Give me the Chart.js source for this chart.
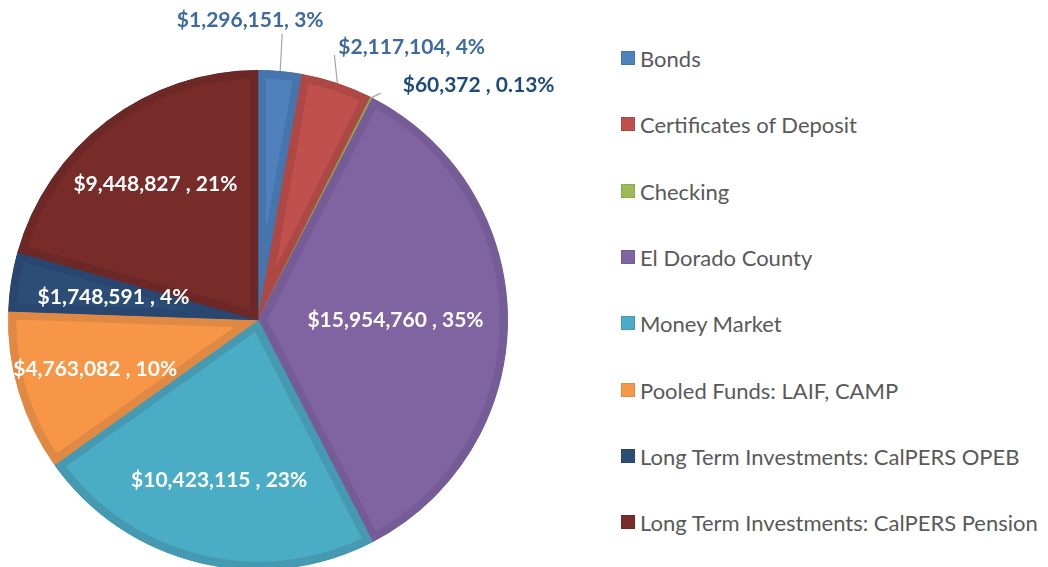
<!DOCTYPE html>
<html>
<head>
<meta charset="utf-8">
<script src="https://cdn.jsdelivr.net/npm/chart.js@4.4.1/dist/chart.umd.min.js"></script>
<style>
  html, body { margin: 0; padding: 0; background: #fff; width: 1048px; height: 567px; overflow: hidden; }
  #wrap { position: absolute; left: 0; top: 0; width: 600px; height: 572px; }
  #legend { position: absolute; left: 621px; top: 0; font-family: Lato, "Open Sans", sans-serif; font-size: 22px; color: #595959; }
  .legend-row { position: absolute; left: 0; white-space: nowrap; display: flex; align-items: center; height: 26px; }
  .legend-swatch { width: 14px; height: 14px; margin-right: 5px; flex: none; }
</style>
</head>
<body>
<div id="wrap"><canvas id="pie" width="600" height="572"></canvas></div>
<div id="legend"></div>
<script>
/* Datos del gráfico */
const CATEGORIES = [
  'Bonds',
  'Certificates of Deposit',
  'Checking',
  'El Dorado County',
  'Money Market',
  'Pooled Funds: LAIF, CAMP',
  'Long Term Investments: CalPERS OPEB',
  'Long Term Investments: CalPERS Pension'
];
const VALUES = [1296151, 2117104, 60372, 15954760, 10423115, 4763082, 1748591, 9448827];
const PCT_LABELS = ['3%', '4%', '0.13%', '35%', '23%', '10%', '4%', '21%'];
const LABEL_SEP = [', ', ', ', ' , ', ' , ', ' , ', ' , ', ' , ', ' , '];

/* Estilos */
const FILLS   = ['#4f81bd', '#c0504d', '#9bbb59', '#8064a2', '#4bacc6', '#f79646', '#2c4d75', '#772c2a'];
const BORDERS = ['#4674ac', '#ad4845', '#8ca850', '#765c96', '#4599b1', '#e08944', '#284670', '#6c2826'];

/* Posición de las etiquetas: dentro (fracción del radio) o fuera (línea guía) */
const LABEL_INSIDE = [false, false, false, true, true, true, true, true];
const LABEL_RADIUS = [0, 0, 0, 0.55, 0.66, 0.68, 0.585, 0.68];
const LEAD = [[2, -37], [-3, -28], [9, -4], null, null, null, null, null];
const TEXT_OFF = [[-32, -14], [4, -8], [22, -8], null, null, null, null, null];
const TEXT_ALIGN = ['center', 'left', 'left', 'center', 'center', 'center', 'center', 'center'];
const OUT_COLORS = ['#3d6aa1', '#3d6aa1', '#1f4a7e'];

const fmtUSD = v => '$' + v.toLocaleString('en-US');

const sliceLabels = {
  id: 'sliceLabels',
  afterDatasetsDraw(chart) {
    const ctx = chart.ctx;
    const meta = chart.getDatasetMeta(0);
    ctx.save();
    ctx.font = 'bold 21px Lato, "Open Sans", sans-serif';
    ctx.textBaseline = 'middle';
    meta.data.forEach((arc, i) => {
      const { x, y, startAngle, endAngle, outerRadius } =
        arc.getProps(['x', 'y', 'startAngle', 'endAngle', 'outerRadius'], true);
      const mid = (startAngle + endAngle) / 2;
      const text = fmtUSD(VALUES[i]) + LABEL_SEP[i] + PCT_LABELS[i];
      ctx.textAlign = TEXT_ALIGN[i];
      if (LABEL_INSIDE[i]) {
        const r = outerRadius * LABEL_RADIUS[i];
        ctx.fillStyle = '#ffffff';
        ctx.fillText(text, x + Math.cos(mid) * r, y + Math.sin(mid) * r);
      } else {
        const ex = x + Math.cos(mid) * outerRadius;
        const ey = y + Math.sin(mid) * outerRadius;
        const lx = ex + LEAD[i][0];
        const ly = ey + LEAD[i][1];
        ctx.strokeStyle = '#a6a6a6';
        ctx.lineWidth = 1.2;
        ctx.beginPath();
        ctx.moveTo(ex, ey);
        ctx.lineTo(lx, ly);
        ctx.stroke();
        ctx.fillStyle = OUT_COLORS[i];
        ctx.fillText(text, lx + TEXT_OFF[i][0], ly + TEXT_OFF[i][1]);
      }
    });
    ctx.restore();
  }
};

new Chart(document.getElementById('pie'), {
  type: 'pie',
  data: {
    labels: CATEGORIES,
    datasets: [{
      data: VALUES,
      backgroundColor: FILLS,
      borderColor: BORDERS,
      borderWidth: 8,
      borderAlign: 'inner'
    }]
  },
  options: {
    responsive: false,
    animation: false,
    layout: { padding: { left: 8, right: 92, top: 68, bottom: 0 } },
    plugins: {
      legend: { display: false },
      tooltip: { enabled: false }
    }
  },
  plugins: [sliceLabels]
});

/* Leyenda a la derecha */
const LEGEND_TOP = 58;
const LEGEND_STEP = 66.3;
document.getElementById('legend').innerHTML = CATEGORIES.map((name, i) => `
  <div class="legend-row" style="top:${Math.round(LEGEND_TOP + i * LEGEND_STEP - 13)}px">
    <span class="legend-swatch" style="background:${FILLS[i]};border:1px solid ${BORDERS[i]};box-sizing:border-box"></span>
    <span>${name}</span>
  </div>`).join('');
</script>
</body>
</html>
